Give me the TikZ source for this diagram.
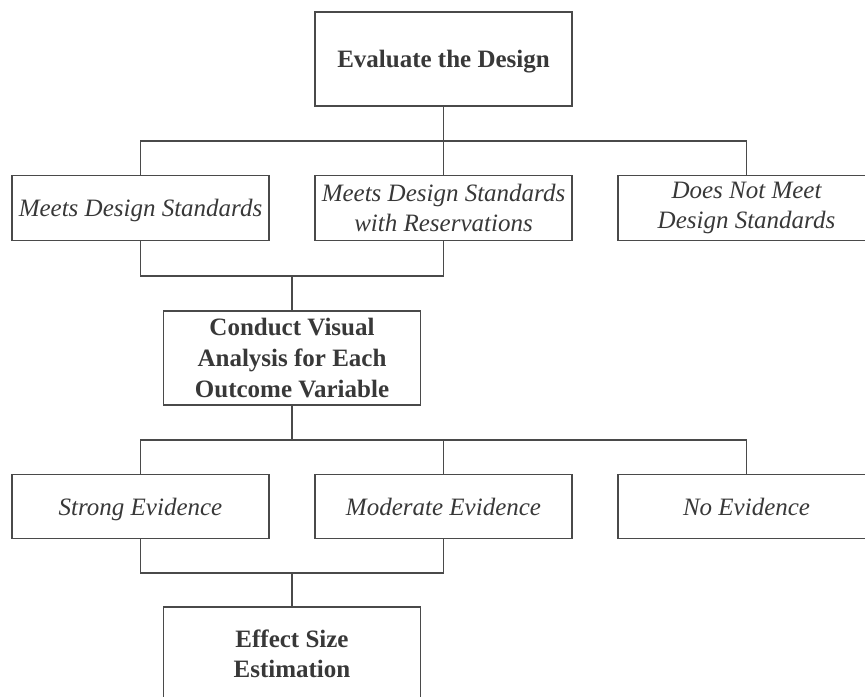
\documentclass[tikz,border=0pt]{standalone}
\usepackage{fontspec}
\setmainfont{Liberation Serif}
\usepackage{tikz}
\usetikzlibrary{positioning}

\definecolor{linegray}{HTML}{4A4A4A}
\definecolor{textgray}{HTML}{383838}

\tikzset{
  box/.style={draw=linegray, line width=0.6pt, minimum width=128.5pt,
    inner sep=2pt, align=center, text=textgray,
    font=\fontsize{12.5}{15.3}\selectfont},
  headbox/.style={box, minimum height=47pt, font=\fontsize{12.5}{15.3}\selectfont\bfseries},
  choicebox/.style={box, minimum height=32.3pt, font=\fontsize{12.5}{15.3}\selectfont\itshape},
  oneline/.style={text height=2.3ex, text depth=0.45ex},
  link/.style={draw=linegray, line width=0.6pt}
}

\begin{document}
\begin{tikzpicture}[x=0.5pt, y=-0.5pt]
\useasboundingbox (0,0) rectangle (865,696);
\clip (0,0) rectangle (865,696);
% Top box
\node[headbox, oneline] (evaluate) at (443.5,59) {Evaluate the Design};
% Design results
\node[choicebox, oneline] (meets) at (140.5,208) {Meets Design Standards};
\node[choicebox] (reserv) at (443.5,208) {Meets Design Standards\\with Reservations};
\node[choicebox] (notmeet) at (746.5,208) {Does Not Meet\\Design Standards};
% Visual analysis
\node[headbox] (visual) at (292,358) {Conduct Visual\\Analysis for Each\\Outcome Variable};
% Evidence
\node[choicebox, oneline] (strong) at (140.5,506.5) {Strong Evidence};
\node[choicebox, oneline] (moderate) at (443.5,506.5) {Moderate Evidence};
\node[choicebox, oneline] (noev) at (746.5,506.5) {No Evidence};
% Effect size
\node[headbox] (effect) at (292,654) {Effect Size\\Estimation};
% Branch points
\coordinate (split1) at (443.5,141);
\coordinate (join1) at (292,276);
\coordinate (split2) at (292,440);
\coordinate (join2) at (292,573);
% Connectors
\draw[link] (evaluate) -- (split1);
\draw[link] (meets.north) |- (split1) -| (notmeet.north);
\draw[link] (split1) -- (reserv.north);
\draw[link] (meets.south) |- (join1) -| (reserv.south);
\draw[link] (join1) -- (visual.north);
\draw[link] (visual.south) -- (split2);
\draw[link] (strong.north) |- (split2) -| (noev.north);
\draw[link] (split2 -| moderate.north) -- (moderate.north);
\draw[link] (strong.south) |- (join2) -| (moderate.south);
\draw[link] (join2) -- (effect.north);
\end{tikzpicture}
\end{document}
